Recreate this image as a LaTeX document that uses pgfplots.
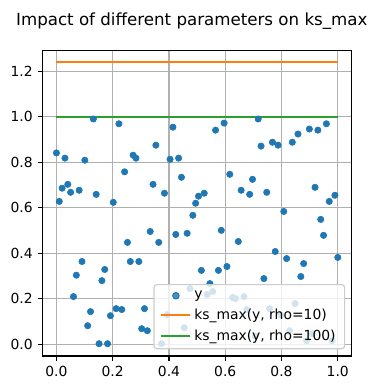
\documentclass[border=0pt]{standalone}
\usepackage{pgfplots}
\pgfplotsset{compat=1.18}
\usepackage{fontspec}
\setmainfont{DejaVu Sans}
\definecolor{mplblue}{HTML}{1F77B4}
\definecolor{mplorange}{HTML}{FF7F0E}
\definecolor{mplgreen}{HTML}{2CA02C}
\definecolor{mplgrid}{HTML}{B0B0B0}
\definecolor{mpllegend}{HTML}{CCCCCC}
\pgfplotstableread{
x y
0.0000 0.841
0.0101 0.628
0.0202 0.686
0.0303 0.818
0.0404 0.703
0.0505 0.668
0.0606 0.210
0.0707 0.304
0.0808 0.677
0.0909 0.364
0.1010 0.809
0.1111 0.082
0.1212 0.144
0.1313 0.990
0.1414 0.659
0.1515 0.003
0.1616 0.280
0.1717 0.329
0.1818 0.003
0.1919 0.126
0.2020 0.624
0.2121 0.157
0.2222 0.969
0.2323 0.153
0.2424 0.758
0.2525 0.448
0.2626 0.364
0.2727 0.831
0.2828 0.818
0.2929 0.364
0.3030 0.069
0.3131 0.157
0.3232 0.060
0.3333 0.496
0.3434 0.703
0.3535 0.875
0.3636 0.448
0.3737 0.003
0.3838 0.664
0.3939 0.131
0.4040 0.813
0.4141 0.954
0.4242 0.483
0.4343 0.818
0.4444 0.734
0.4545 0.073
0.4646 0.488
0.4747 0.245
0.4848 0.567
0.4949 0.620
0.5051 0.651
0.5152 0.325
0.5253 0.664
0.5354 0.219
0.5455 0.267
0.5556 0.232
0.5657 0.941
0.5758 0.325
0.5859 0.501
0.5960 0.972
0.6061 0.342
0.6162 0.747
0.6263 0.206
0.6364 0.201
0.6465 0.452
0.6566 0.677
0.6667 0.210
0.6768 0.153
0.6869 0.659
0.6970 0.725
0.7071 0.037
0.7172 0.990
0.7273 0.871
0.7374 0.289
0.7475 0.668
0.7576 0.157
0.7677 0.888
0.7778 0.408
0.7879 0.875
0.7980 0.129
0.8081 0.584
0.8182 0.377
0.8283 0.060
0.8384 0.888
0.8485 0.179
0.8586 0.924
0.8687 0.298
0.8788 0.355
0.8889 0.016
0.8990 0.946
0.9091 0.047
0.9192 0.690
0.9293 0.941
0.9394 0.549
0.9495 0.479
0.9596 0.969
0.9697 0.628
0.9798 0.016
0.9899 0.655
1.0000 0.382
}\scatterdata
\begin{document}
\begin{tikzpicture}
\begin{axis}[
  scale only axis, width=222.8pt, height=219.8pt,
  xmin=-0.05, xmax=1.05, ymin=-0.051, ymax=1.290,
  xtick={0,0.2,0.4,0.6,0.8,1}, ytick={0,0.2,0.4,0.6,0.8,1,1.2},
  grid=major, major grid style={color=mplgrid, line width=0.8pt},
  tick align=outside, tick pos=left, major tick length=3.5pt,
  every tick/.style={black, line width=0.8pt},
  axis line style={line width=0.8pt},
  tick label style={font=\fontsize{10}{12}\selectfont},
  /pgf/number format/fixed, /pgf/number format/fixed zerofill,
  /pgf/number format/precision=1, /pgf/number format/assume math mode=true,
  clip=false,
  legend cell align=left,
  legend image code/.code={\draw[mark repeat=2,mark phase=2,#1] plot coordinates {(0pt,0pt)(10.5pt,0pt)(21pt,0pt)};},
  legend style={at={(rel axis cs:1,0)}, anchor=south east, xshift=-4.8pt, yshift=4.8pt,
    font=\fontsize{10}{12}\selectfont, rounded corners=2pt, draw=mpllegend, line width=0.8pt,
    fill=white, fill opacity=0.8, text opacity=1, row sep=2pt, inner xsep=4.5pt, inner ysep=2.5pt},
]
\addplot[only marks, mark=*, mark size=2.3pt, mplblue, mark options={draw=none, fill=mplblue}] table[x=x, y=y] {\scatterdata};
\addlegendentry{y}
\addplot[mplorange, line width=1.5pt] coordinates {(0,1.239) (1,1.239)};
\addlegendentry{ks\_max(y, rho=10)}
\addplot[mplgreen, line width=1.5pt] coordinates {(0,0.999) (1,0.999)};
\addlegendentry{ks\_max(y, rho=100)}
\coordinate (sw) at (rel axis cs:0,0);
\end{axis}
\node[anchor=base, font=\fontsize{12}{14}\selectfont, inner sep=0pt] at ([shift={(107.6pt,238.0pt)}]sw) {Impact of different parameters on ks\_max};
\pgfresetboundingbox
\path ([shift={(-30.5pt,-25.2pt)}]sw) rectangle ([shift={(241.0pt,256.3pt)}]sw);
\end{tikzpicture}
\end{document}
